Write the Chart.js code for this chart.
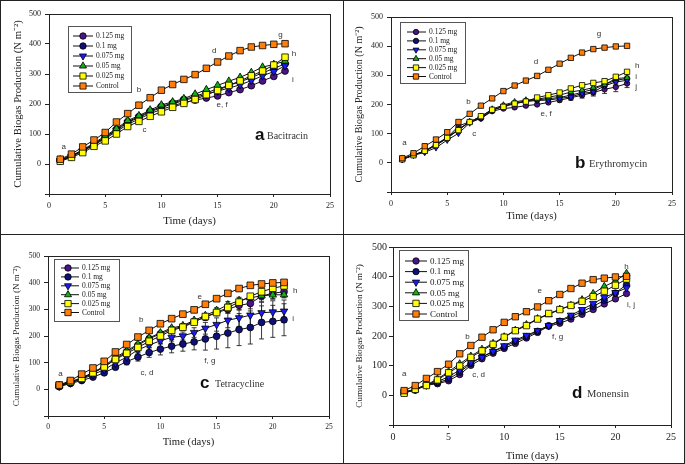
<!DOCTYPE html>
<html>
<head>
<meta charset="utf-8">
<script src="https://cdn.jsdelivr.net/npm/chart.js@4.4.1/dist/chart.umd.min.js"></script>
<style>
  body { margin: 0; background: #fff; }
  #fig { position: relative; width: 685px; height: 464px; box-sizing: border-box; border: 1px solid #222; }
  .panel { position: absolute; }
  .vline { position: absolute; left: 342px; top: 0; width: 1px; height: 462px; background: #222; }
  .hline { position: absolute; left: 0; top: 233px; width: 683px; height: 1px; background: #222; }
</style>
</head>
<body>
<div id="fig">
  <canvas id="pa" class="panel" width="342" height="233" style="left:0;top:0"></canvas>
  <canvas id="pb" class="panel" width="340" height="233" style="left:343px;top:0"></canvas>
  <canvas id="pc" class="panel" width="342" height="228" style="left:0;top:234px"></canvas>
  <canvas id="pd" class="panel" width="340" height="228" style="left:343px;top:234px"></canvas>
  <div class="vline"></div>
  <div class="hline"></div>
</div>
<script>
// days of incubation
const days = [1, 2, 3, 4, 5, 6, 7, 8, 9, 10, 11, 12, 13, 14, 15, 16, 17, 18, 19, 20, 21];
const seriesNames = ['0.125 mg', '0.1 mg', '0.075 mg', '0.05 mg', '0.025 mg', 'Control'];
const xTickValues = [0, 5, 10, 15, 20, 25];
const yTickValues = [-100, 0, 100, 200, 300, 400, 500];
const yTickLabels = ['', '0', '100', '200', '300', '400', '500'];

// control is the same in every panel
const control = [16, 33, 57, 80, 105, 140, 168, 196, 221, 246, 265, 282, 298, 319, 340, 360, 378, 390, 395, 399, 401];

// a - Bacitracin
const baci125 = [12, 25, 43, 63, 85, 108, 132, 150, 168, 182, 194, 205, 213, 220, 227, 238, 248, 261, 277, 292, 310];
const baci100 = [13, 27, 45, 67, 90, 115, 141, 158, 176, 192, 203, 215, 226, 238, 250, 262, 274, 288, 304, 318, 334];
const baci075 = [11, 26, 44, 65, 88, 112, 138, 155, 173, 189, 200, 212, 222, 233, 243, 253, 264, 278, 294, 308, 327];
const baci050 = [14, 28, 47, 70, 93, 118, 145, 161, 180, 197, 207, 218, 233, 248, 262, 276, 289, 305, 323, 332, 343];
const baci025 = [9, 22, 38, 59, 77, 100, 125, 142, 159, 174, 189, 202, 215, 231, 245, 262, 277, 294, 310, 330, 356];

// b - Erythromycin
const eryth125 = [13, 27, 40, 62, 86, 126, 141, 152, 177, 186, 190, 196, 200, 207, 215, 223, 232, 241, 252, 260, 272];
const eryth100 = [12, 27, 39, 60, 84, 114, 140, 155, 180, 194, 205, 212, 216, 220, 224, 232, 242, 252, 268, 283, 289];
const eryth075 = [11, 26, 36, 52, 78, 101, 137, 153, 180, 195, 204, 210, 214, 215, 221, 226, 238, 243, 264, 277, 283];
const eryth050 = [13, 27, 40, 64, 87, 115, 141, 158, 184, 198, 209, 215, 218, 225, 232, 243, 249, 258, 268, 289, 292];
const eryth025 = [12, 26, 41, 61, 86, 112, 140, 160, 182, 192, 203, 210, 224, 232, 241, 255, 266, 274, 280, 295, 312];
const eryth125Err = [0, 0, 0, 0, 0, 0, 0, 0, 0, 0, 0, 0, 0, 4, 6, 8, 10, 12, 14, 16, 14];
const eryth100Err = [0, 0, 0, 0, 0, 0, 0, 0, 0, 0, 0, 0, 0, 0, 0, 0, 6, 8, 10, 10, 8];
const eryth075Err = [0, 0, 0, 0, 0, 0, 0, 0, 0, 0, 0, 0, 0, 0, 0, 5, 8, 10, 10, 10, 8];

// c - Tetracycline
const tetra125 = [13, 26, 40, 60, 84, 115, 140, 165, 190, 208, 225, 236, 255, 270, 288, 300, 315, 322, 350, 360, 366];
const tetra100 = [10, 22, 33, 46, 62, 83, 104, 121, 138, 151, 162, 170, 178, 189, 199, 211, 224, 232, 251, 255, 261];
const tetra075 = [12, 24, 38, 55, 74, 99, 121, 148, 166, 182, 195, 200, 213, 229, 243, 259, 268, 278, 287, 290, 293];
const tetra050 = [14, 28, 43, 63, 87, 120, 144, 170, 193, 212, 230, 239, 259, 277, 296, 317, 333, 343, 351, 354, 355];
const tetra025 = [15, 29, 41, 62, 84, 112, 135, 157, 180, 200, 221, 233, 252, 273, 288, 307, 327, 349, 366, 379, 388];
const tetra125Err = [0, 0, 0, 0, 0, 0, 0, 0, 0, 0, 0, 0, 0, 10, 12, 15, 18, 20, 22, 22, 20];
const tetra100Err = [0, 0, 0, 2, 4, 6, 12, 15, 18, 22, 25, 27, 30, 42, 48, 55, 60, 62, 62, 60, 60];
const tetra075Err = [0, 0, 0, 0, 0, 0, 5, 8, 10, 12, 14, 15, 18, 22, 25, 28, 32, 38, 40, 42, 42];
const tetra050Err = [0, 0, 0, 0, 0, 0, 0, 0, 0, 0, 0, 0, 0, 0, 10, 12, 12, 14, 15, 14, 12];

// d - Monensin
const mone125 = [9, 17, 34, 39, 49, 70, 101, 123, 142, 158, 175, 193, 212, 233, 243, 257, 273, 289, 308, 325, 343];
const mone100 = [10, 20, 36, 42, 55, 78, 107, 130, 148, 163, 182, 198, 216, 235, 250, 265, 282, 300, 320, 345, 373];
const mone075 = [12, 20, 34, 46, 63, 85, 111, 128, 148, 167, 186, 202, 218, 235, 252, 270, 289, 309, 330, 346, 362];
const mone050 = [8, 21, 35, 55, 80, 106, 132, 155, 175, 197, 219, 238, 258, 272, 290, 303, 322, 343, 367, 385, 411];
const mone025 = [7, 20, 33, 52, 76, 99, 128, 150, 172, 196, 218, 235, 257, 276, 289, 303, 317, 333, 351, 371, 392];

// significance letters [text, day, value]
const baciLetters = [['a', 1.3, 59], ['b', 8.0, 246], ['c', 8.5, 115], ['d', 14.7, 379], ['e, f', 15.4, 199], ['g', 20.6, 430], ['h', 21.8, 368], ['i', 21.7, 282]];
const erythLetters = [['a', 1.2, 67], ['b', 6.9, 209], ['c', 7.4, 98], ['d', 12.9, 345], ['e, f', 13.8, 169], ['g', 18.5, 443], ['h', 21.9, 334], ['i', 21.8, 295], ['j', 21.8, 260]];
const tetraLetters = [['a', 1.1, 60], ['b', 8.3, 260], ['c, d', 8.8, 62], ['e', 13.5, 346], ['f, g', 14.4, 108], ['h', 22.0, 371], ['i', 21.8, 263]];
const moneLetters = [['a', 1.0, 71], ['b', 6.7, 197], ['c, d', 7.7, 70], ['e', 13.2, 351], ['f, g', 14.8, 197], ['h', 21.0, 434], ['i, j', 21.4, 305]];

const markers = [
  { color: '#4b1488', shape: 'circle', rot: 0 },
  { color: '#10107a', shape: 'circle', rot: 0 },
  { color: '#1a1aff', shape: 'triangle', rot: 180 },
  { color: '#12b012', shape: 'triangle', rot: 0 },
  { color: '#ffff00', shape: 'rect', rot: 0 },
  { color: '#ff7f0a', shape: 'rect', rot: 0 }
];

const SERIF = "'Liberation Serif', 'Times New Roman', serif";
const SANS = "'Liberation Sans', Arial, sans-serif";

function drawMarker(ctx, shape, x, y, r, rot, fill) {
  ctx.beginPath();
  if (shape === 'circle') {
    ctx.arc(x, y, r, 0, Math.PI * 2);
  } else if (shape === 'rect') {
    const s = r * Math.SQRT1_2;
    ctx.rect(x - s, y - s, 2 * s, 2 * s);
  } else {
    let a = rot * Math.PI / 180;
    for (let k = 0; k < 3; k++) {
      const px = x + Math.sin(a) * r, py = y - Math.cos(a) * r;
      if (k === 0) ctx.moveTo(px, py); else ctx.lineTo(px, py);
      a += Math.PI * 2 / 3;
    }
    ctx.closePath();
  }
  ctx.fillStyle = fill;
  ctx.fill();
  ctx.lineWidth = 0.8;
  ctx.strokeStyle = '#000';
  ctx.stroke();
}

function sizeFor(p, shape) {
  return shape === 'circle' ? p.sizes.circle : shape === 'rect' ? p.sizes.rect : p.sizes.tri;
}

function makePanel(p) {
  const canvas = document.getElementById(p.id);
  const W = canvas.width, H = canvas.height;

  const extras = {
    id: 'extras',
    beforeDatasetsDraw(chart) {
      // error bars
      const ctx = chart.ctx, ys = chart.scales.y, xs = chart.scales.x;
      ctx.save();
      ctx.strokeStyle = '#222';
      ctx.lineWidth = 0.9;
      p.errors.forEach((errs, si) => {
        if (!errs) return;
        const vals = p.series[si];
        errs.forEach((e, i) => {
          if (!e) return;
          const x = xs.getPixelForValue(days[i]);
          const y0 = ys.getPixelForValue(vals[i] - e), y1 = ys.getPixelForValue(vals[i] + e);
          ctx.beginPath();
          ctx.moveTo(x, y0); ctx.lineTo(x, y1);
          ctx.moveTo(x - 2.5, y0); ctx.lineTo(x + 2.5, y0);
          ctx.moveTo(x - 2.5, y1); ctx.lineTo(x + 2.5, y1);
          ctx.stroke();
        });
      });
      ctx.restore();
    },
    afterDraw(chart) {
      const ctx = chart.ctx, a = chart.chartArea, xs = chart.scales.x, ys = chart.scales.y;
      ctx.save();
      // plot frame
      ctx.strokeStyle = '#222';
      ctx.lineWidth = 1;
      ctx.strokeRect(Math.round(a.left) + 0.5, Math.round(a.top) + 0.5, Math.round(a.right - a.left), Math.round(a.bottom - a.top));

      // letters
      ctx.fillStyle = '#333';
      ctx.font = '8px ' + SANS;
      ctx.textAlign = 'center';
      ctx.textBaseline = 'middle';
      p.letters.forEach(([t, dx, dy]) => {
        ctx.fillText(t, xs.getPixelForValue(dx), ys.getPixelForValue(dy));
      });

      // legend box
      const L = p.legend;
      ctx.fillStyle = '#fff';
      ctx.fillRect(L.x, L.y, L.w, L.h);
      ctx.strokeStyle = '#555';
      ctx.lineWidth = 1;
      ctx.strokeRect(L.x + 0.5, L.y + 0.5, L.w, L.h);
      seriesNames.forEach((name, i) => {
        const y = L.row0 + i * L.step;
        const m = markers[i];
        ctx.strokeStyle = '#111';
        ctx.lineWidth = 1;
        ctx.beginPath();
        ctx.moveTo(L.lx0, y); ctx.lineTo(L.lx1, y);
        ctx.stroke();
        drawMarker(ctx, m.shape, L.mx, y, sizeFor(p, m.shape) * L.scale, m.rot, m.color);
        ctx.fillStyle = '#222';
        ctx.font = L.font + 'px ' + SERIF;
        ctx.textAlign = 'left';
        ctx.textBaseline = 'middle';
        ctx.fillText(name, L.tx, y + 0.5);
      });

      // panel tag
      ctx.fillStyle = '#111';
      ctx.textBaseline = 'middle';
      ctx.textAlign = 'left';
      ctx.font = 'bold ' + p.tag.size + 'px ' + SANS;
      ctx.fillText(p.tag.letter, p.tag.x, p.tag.y);
      ctx.fillStyle = '#333';
      ctx.font = p.tag.nameSize + 'px ' + SERIF;
      ctx.fillText(p.tag.name, p.tag.nameX, p.tag.y + 1);
      ctx.restore();
    }
  };

  const datasets = p.series.map((vals, i) => {
    const m = markers[i];
    return {
      label: seriesNames[i],
      data: days.map((d, j) => ({ x: d, y: vals[j] })),
      borderColor: '#111',
      borderWidth: 1,
      tension: 0,
      pointStyle: m.shape,
      pointRotation: m.rot,
      pointRadius: sizeFor(p, m.shape),
      pointBackgroundColor: m.color,
      pointBorderColor: '#000',
      pointBorderWidth: 0.8,
      order: 6 - i
    };
  });

  const tickFont = { family: SERIF, size: p.tick };
  const titleFont = { family: SERIF, size: p.title };

  new Chart(canvas, {
    type: 'line',
    data: { datasets },
    plugins: [extras],
    options: {
      responsive: false,
      animation: false,
      layout: { padding: { left: 0, top: p.area.top, right: W - p.area.right, bottom: 0 } },
      plugins: { legend: { display: false }, tooltip: { enabled: false } },
      scales: {
        x: {
          type: 'linear', min: 0, max: 25,
          afterBuildTicks: s => { s.ticks = xTickValues.map(v => ({ value: v })); },
          afterFit: s => { s.height = H - p.area.bottom; },
          ticks: { font: tickFont, color: '#222', padding: p.xPad, maxRotation: 0, autoSkip: false },
          grid: { drawOnChartArea: false, drawTicks: true, tickLength: 3, color: '#222' },
          border: { color: '#222', width: 1 },
          title: { display: true, text: 'Time (days)', font: titleFont, color: '#222',
                   padding: { top: 0, bottom: H - p.xTitleY - p.title * 0.6 } }
        },
        y: {
          min: -100, max: 500,
          afterBuildTicks: s => { s.ticks = yTickValues.map(v => ({ value: v })); },
          afterFit: s => { s.width = p.area.left; },
          ticks: {
            font: tickFont, color: '#222', padding: p.yPad, autoSkip: false,
            callback: v => yTickLabels[yTickValues.indexOf(v)]
          },
          grid: { drawOnChartArea: false, drawTicks: true, tickLength: 4, color: '#222' },
          border: { color: '#222', width: 1 },
          title: { display: true, text: 'Cumulative Biogas Production (N m\u207B\u00B2)', font: { family: SERIF, size: p.yTitle }, color: '#222',
                   padding: { top: p.yTitleX - p.yTitle * 0.6, bottom: 0 } }
        }
      }
    }
  });
}

const panels = [
  {
    id: 'pa', series: [baci125, baci100, baci075, baci050, baci025, control],
    errors: [null, null, null, null, null, null], letters: baciLetters,
    area: { left: 48, top: 13, right: 329, bottom: 193 },
    tick: 8, title: 10.9, yTitle: 10.7, xTitleY: 220, yTitleX: 17, xPad: 4, yPad: 4,
    sizes: { circle: 3.4, rect: 4.6, tri: 4.3 },
    legend: { x: 67, y: 25, w: 63, h: 66, row0: 35, step: 10, lx0: 72, lx1: 92, mx: 82, tx: 95, font: 7.5, scale: 0.95 },
    tag: { letter: 'a', name: 'Bacitracin', x: 254, y: 134, size: 17, nameX: 266, nameSize: 10 }
  },
  {
    id: 'pb', series: [eryth125, eryth100, eryth075, eryth050, eryth025, control],
    errors: [eryth125Err, eryth100Err, eryth075Err, null, null, null], letters: erythLetters,
    area: { left: 47, top: 16, right: 328, bottom: 191 },
    tick: 8, title: 10.5, yTitle: 10, xTitleY: 215, yTitleX: 15, xPad: 4, yPad: 4,
    sizes: { circle: 2.7, rect: 3.8, tri: 3.4 },
    legend: { x: 56, y: 21, w: 65, h: 61, row0: 31, step: 8.9, lx0: 63, lx1: 82, mx: 72, tx: 85, font: 7.5, scale: 1 },
    tag: { letter: 'b', name: 'Erythromycin', x: 231, y: 162, size: 17, nameX: 245, nameSize: 10.5 }
  },
  {
    id: 'pc', series: [tetra125, tetra100, tetra075, tetra050, tetra025, control],
    errors: [tetra125Err, tetra100Err, tetra075Err, tetra050Err, null, null], letters: tetraLetters,
    area: { left: 47, top: 21, right: 328, bottom: 181 },
    tick: 7.5, title: 10.7, yTitle: 9, xTitleY: 207, yTitleX: 16, xPad: 4, yPad: 4,
    sizes: { circle: 3.4, rect: 4.7, tri: 4.3 },
    legend: { x: 53, y: 24, w: 65, h: 62, row0: 33, step: 8.9, lx0: 60, lx1: 78, mx: 67, tx: 81, font: 7.5, scale: 0.95 },
    tag: { letter: 'c', name: 'Tetracycline', x: 199, y: 148, size: 17, nameX: 214, nameSize: 10 }
  },
  {
    id: 'pd', series: [mone125, mone100, mone075, mone050, mone025, control],
    errors: [null, null, null, null, null, null], letters: moneLetters,
    area: { left: 49, top: 12, right: 327, bottom: 190 },
    tick: 10, title: 10.9, yTitle: 9.2, xTitleY: 221, yTitleX: 16, xPad: 3, yPad: 2,
    sizes: { circle: 3.2, rect: 4.5, tri: 4.2 },
    legend: { x: 55, y: 15, w: 69, h: 70, row0: 26, step: 10.6, lx0: 61, lx1: 83, mx: 72, tx: 86, font: 9, scale: 1 },
    tag: { letter: 'd', name: 'Monensin', x: 228, y: 158, size: 17, nameX: 243, nameSize: 10.5 }
  }
];

panels.forEach(makePanel);
</script>
</body>
</html>
